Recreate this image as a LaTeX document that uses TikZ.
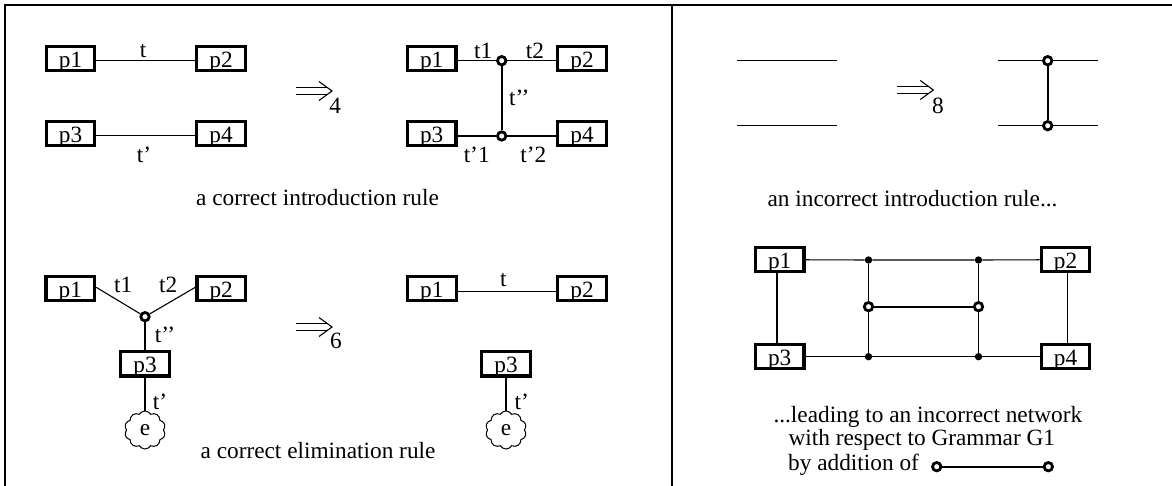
\documentclass[tikz,border=0pt]{standalone}
\usepackage{fontspec}
\setmainfont{Liberation Serif}
\usetikzlibrary{shapes.symbols}
\begin{document}
\begin{tikzpicture}[x=1pt,y=-1pt,
  font=\fontsize{23.3}{28}\selectfont,
  pbox/.style={draw, line width=3.2pt, minimum width=48.6pt, minimum height=24.3pt, inner xsep=0pt, inner ysep=3pt, text height=18.3pt, text depth=0pt},
  wire/.style={line width=1.1pt},
  bar/.style={line width=2.3pt},
  oring/.style={circle, draw, fill=white, line width=2.8pt, minimum size=8.4pt, inner sep=0pt},
  jdot/.style={circle, fill=black, minimum size=7.4pt, inner sep=0pt},
  lbl/.style={inner sep=0pt},
  enode/.style={draw, cloud, cloud puffs=10, cloud puff arc=120, aspect=1, minimum width=41pt, minimum height=38pt, inner sep=0pt, line width=1pt},
  framel/.style={line width=1.6pt},
  dblarrow/.pic={
    \draw[line width=1.1pt] (0,-3.6) -- (31,-3.6) (0,3.6) -- (31,3.6);
    \draw[line width=1.1pt, line join=miter] (23,-9.5) -- (36,0) -- (23,9.5);
  },
]
\useasboundingbox (0,0) rectangle (1172,486);

% frame
\coordinate (f1) at (5,486);
\coordinate (f2) at (5,5);
\coordinate (f3) at (1172,5);
\coordinate (f4) at (672,5);
\coordinate (f5) at (672,486);
\draw[framel] (f1) -- (f2) -- (f3);
\draw[framel] (f4) -- (f5);

% ---------- top-left: correct introduction rule ----------
\node[pbox] (ap1) at (70.5,58.3) {p1};
\node[pbox] (ap2) at (221,58.3) {p2};
\node[pbox] (ap3) at (70.5,133.3) {p3};
\node[pbox] (ap4) at (221,133.3) {p4};
\draw[wire] ([yshift=-2.4pt]ap1.east) -- ([yshift=-2.4pt]ap2.west);
\draw[wire] ([yshift=-2.6pt]ap3.east) -- ([yshift=-2.6pt]ap4.west);
\node[lbl] (at) at (143,51) {t};
\node[lbl] (atp) at (144,155) {t’};

\pic at (296,91) {dblarrow};
\node[lbl] (a4) at (335.3,105.5) {4};

\node[pbox] (bp1) at (431.7,58.3) {p1};
\node[pbox] (bp2) at (582,58.3) {p2};
\node[pbox] (bp3) at (431.7,133.3) {p3};
\node[pbox] (bp4) at (582,133.3) {p4};
\node[oring] (bc1) at (501.7,60.7) {};
\node[oring] (bc2) at (501.7,136) {};
\draw[wire] ([yshift=-2.4pt]bp1.east) -- (bc1);
\draw[wire] (bc1) -- ([yshift=-2.4pt]bp2.west);
\draw[wire] ([yshift=-2.7pt]bp3.east) -- (bc2);
\draw[wire] (bc2) -- ([yshift=-2.7pt]bp4.west);
\draw[bar] (bc1) -- (bc2);
\node[lbl] (bt1) at (483.3,50.7) {t1};
\node[lbl] (bt2) at (535,50.7) {t2};
\node[lbl] (btpp) at (519.3,98.3) {t’’};
\node[lbl] (btp1) at (476.7,155) {t’1};
\node[lbl] (btp2) at (533.3,155) {t’2};

\node[anchor=base, inner sep=0pt] (cap1) at (317.5,206) {a correct introduction rule};

% ---------- bottom-left: correct elimination rule ----------
\node[pbox] (cp1) at (70.3,288.3) {p1};
\node[pbox] (cp2) at (221.2,288.3) {p2};
\node[oring] (cc) at (145,316.7) {};
\node[pbox] (cp3) at (145,363.8) {p3};
\node[enode] (ce) at (145,430) {e};
\draw[wire] ([yshift=1pt]cp1.east) -- (cc);
\draw[wire] ([yshift=1pt]cp2.west) -- (cc);
\draw[wire] (cc) -- (cp3);
\draw[wire] (cp3) -- (ce);
\node[lbl] (ct1) at (123.3,285) {t1};
\node[lbl] (ct2) at (168.3,285) {t2};
\node[lbl] (ctpp) at (165,335) {t’’};
\node[lbl] (ctp) at (160,401.7) {t’};

\pic at (296,327) {dblarrow};
\node[lbl] (c6) at (336,341.3) {6};

\node[pbox] (dp1) at (431.8,288.3) {p1};
\node[pbox] (dp2) at (582,288.3) {p2};
\draw[wire] ([yshift=-3pt]dp1.east) -- ([yshift=-3pt]dp2.west);
\node[lbl] (dt) at (503.3,280) {t};
\node[pbox] (dp3) at (506,363.8) {p3};
\node[enode] (de) at (506,430) {e};
\draw[wire] (dp3) -- (de);
\node[lbl] (dtp) at (521.7,401.7) {t’};

\node[anchor=base, inner sep=0pt] (cap2) at (318,458.3) {a correct elimination rule};

% ---------- top-right: incorrect introduction rule ----------
\coordinate (ea1) at (737.3,60.7);
\coordinate (ea2) at (837.3,60.7);
\coordinate (eb1) at (737.3,125.7);
\coordinate (eb2) at (837.3,125.7);
\draw[wire] (ea1) -- (ea2);
\draw[wire] (eb1) -- (eb2);

\pic at (897.3,90) {dblarrow};
\node[lbl] (e8) at (938,105.5) {8};

\coordinate (fa1) at (998.3,60.7);
\coordinate (fa2) at (1097.7,60.7);
\coordinate (fb1) at (998.3,125.7);
\coordinate (fb2) at (1097.7,125.7);
\node[oring] (fc1) at (1047.7,60.7) {};
\node[oring] (fc2) at (1047.7,125.7) {};
\draw[wire] (fa1) -- (fc1);
\draw[wire] (fc1) -- (fa2);
\draw[wire] (fb1) -- (fc2);
\draw[wire] (fc2) -- (fb2);
\draw[bar] (fc1) -- (fc2);

\node[anchor=base, inner sep=0pt] (cap3) at (912.5,206.7) {an incorrect introduction rule...};

% ---------- bottom-right: incorrect network ----------
\node[pbox] (gp1) at (779.7,259.7) {p1};
\node[pbox] (gp2) at (1065.5,259.7) {p2};
\node[pbox] (gp3) at (779.7,356.7) {p3};
\node[pbox] (gp4) at (1065.5,356.7) {p4};
\node[jdot] (gd1) at (868.5,260) {};
\node[jdot] (gd2) at (978.5,260) {};
\node[jdot] (gd3) at (868.5,356.7) {};
\node[jdot] (gd4) at (978.5,356.7) {};
\node[oring] (gc1) at (868.5,306.7) {};
\node[oring] (gc2) at (978.5,306.7) {};
\draw[wire] (gp1) -- (gd1) -- (gd2) -- (gp2);
\draw[wire] (gp3) -- (gd3) -- (gd4) -- (gp4);
\draw[wire] ([xshift=-2.7pt]gp1.south) -- ([xshift=-2.7pt]gp3.north);
\draw[wire] ([xshift=2.2pt]gp2.south) -- ([xshift=2.2pt]gp4.north);
\draw[line width=1.5pt] (gd1) -- (gc1) -- (gd3);
\draw[line width=1.5pt] (gd2) -- (gc2) -- (gd4);
\draw[bar] (gc1) -- (gc2);

\node[anchor=base west, inner sep=0pt] (txt1) at (773.3,422.3) {...leading to an incorrect network};
\node[anchor=base west, inner sep=0pt] (txt2) at (788.3,445.7) {with respect to Grammar G1};
\node[anchor=base west, inner sep=0pt] (txt3) at (788,470.5) {by addition of};
\node[oring] (hl1) at (936.7,466.7) {};
\node[oring] (hl2) at (1048.3,466.7) {};
\draw[bar] (hl1) -- (hl2);
\end{tikzpicture}
\end{document}
